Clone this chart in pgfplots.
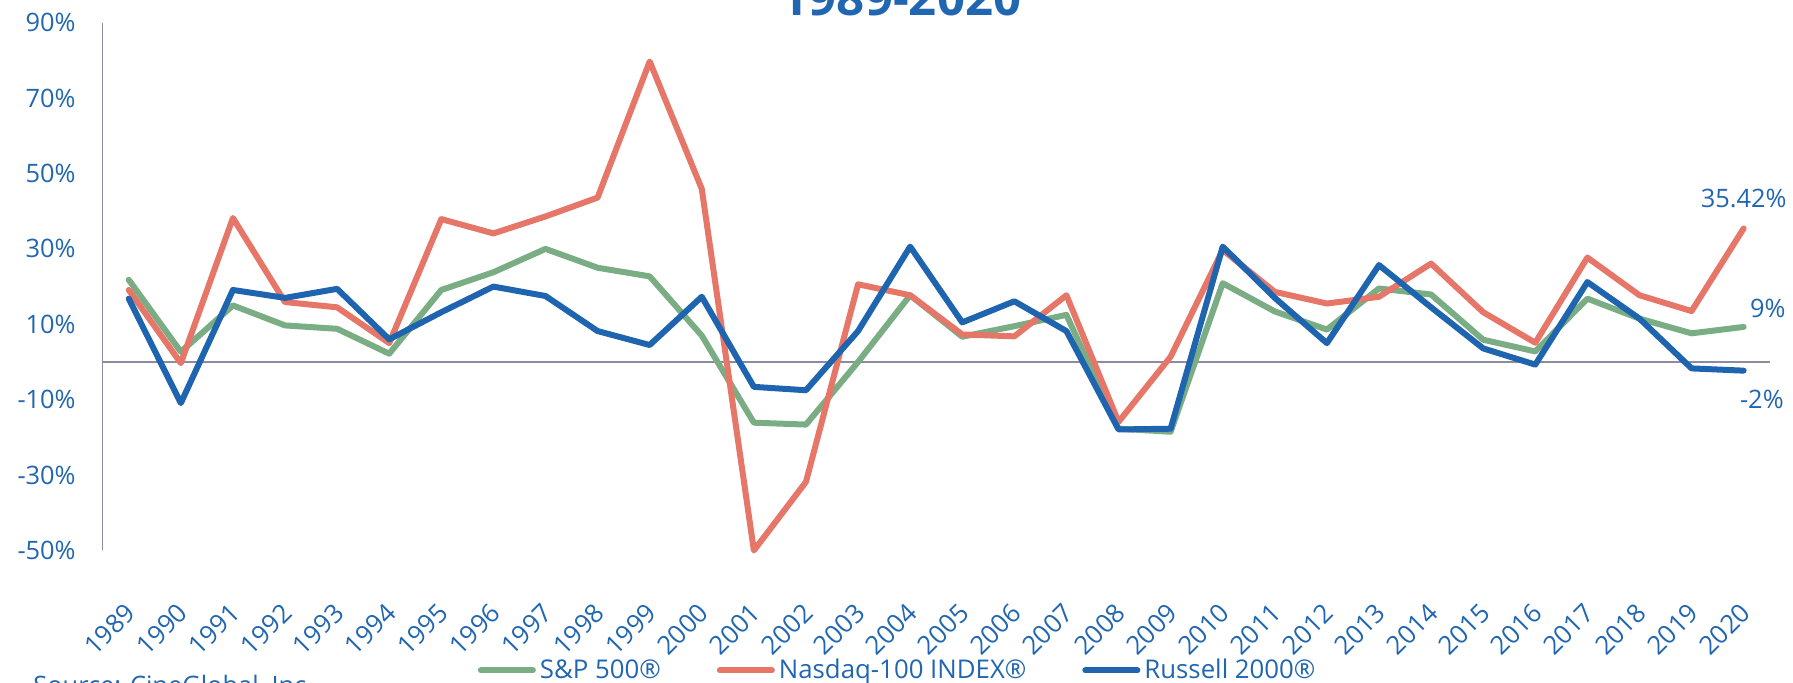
\documentclass[border=0pt]{standalone}
\usepackage{pgfplots}
\usepackage{pgfplotstable}
\pgfplotsset{compat=1.18}
\usepackage{fontspec}
\setmainfont{Open Sans}
\definecolor{txtblue}{RGB}{33,102,176}
\definecolor{spgreen}{RGB}{122,173,132}
\definecolor{ndred}{RGB}{229,118,104}
\definecolor{rublue}{RGB}{30,100,175}
\definecolor{axgray}{RGB}{140,140,160}

\pgfplotstableread{
year sp nd ru
1989 21.8 19.1 16.8
1990 2.7 -0.3 -10.9
1991 15.0 38.2 19.1
1992 9.7 15.9 17.0
1993 8.8 14.5 19.4
1994 2.2 5.0 6.0
1995 19.1 37.9 13.2
1996 23.8 34.1 20.0
1997 30.0 38.6 17.5
1998 25.0 43.6 8.2
1999 22.7 79.7 4.5
2000 7.0 45.9 17.3
2001 -16.1 -50.0 -6.6
2002 -16.6 -31.8 -7.5
2003 0.0 20.6 8.2
2004 17.7 17.7 30.6
2005 6.7 7.3 10.5
2006 9.5 6.8 16.1
2007 12.5 17.7 8.2
2008 -17.7 -15.9 -17.9
2009 -18.5 1.4 -17.7
2010 20.9 29.7 30.6
2011 13.4 18.6 17.0
2012 8.6 15.5 5.0
2013 19.5 17.3 25.7
2014 17.9 26.1 14.5
2015 5.9 13.2 3.6
2016 2.8 5.1 -0.7
2017 16.8 27.7 21.2
2018 11.5 17.7 11.5
2019 7.6 13.5 -1.7
2020 9.3 35.42 -2.3
}\datatable

\begin{document}
\begin{tikzpicture}
\begin{axis}[
  at={(0,0)}, anchor=south west,
  scale only axis,
  width=833.5pt, height=263.9pt,
  xmin=1988.5, xmax=2020.5,
  ymin=-50, ymax=90,
  axis line style={draw=none},
  major tick length=0pt,
  xtick={1989,...,2020},
  ytick={-50,-30,-10,10,30,50,70,90},
  yticklabel={\pgfmathprintnumber{\tick}\%},
  /pgf/number format/assume math mode=true,
  xticklabel style={/pgf/number format/1000 sep={}, xshift=3.5pt, yshift=-4.5pt, rotate=45, anchor=east, font=\fontsize{12.9pt}{15pt}\selectfont, text=txtblue},
  xticklabel shift=22pt,
  yticklabel style={font=\fontsize{12.7pt}{15pt}\selectfont, text=txtblue, xshift=-10pt},
  legend style={draw=none, fill=none, at={(axis description cs:0.4775,-0.2272)}, anchor=center,
    legend columns=3, font=\fontsize{12.9pt}{15pt}\selectfont, text=txtblue,
    /tikz/every even column/.append style={column sep=26pt},
    nodes={inner xsep=2pt}},
  legend image code/.code={\draw[#1, line width=3pt, line cap=round] (0pt,0pt) -- (26pt,0pt);},
  every axis plot/.append style={line width=3pt, line join=round, line cap=round, mark=none},
  clip=false,
]
\draw[axgray, line width=0.8pt] (axis cs:1988.5,-50) -- (axis cs:1988.5,90);
\draw[axgray, line width=0.8pt] (axis cs:1988.5,0) -- (axis cs:2020.5,0);
\addplot[spgreen] table[x=year, y=sp] {\datatable};
\addlegendentry{S\&P 500®}
\addplot[ndred] table[x=year, y=nd] {\datatable};
\addlegendentry{Nasdaq-100 INDEX®}
\addplot[rublue] table[x=year, y=ru] {\datatable};
\addlegendentry{Russell 2000®}
\node[anchor=south, inner sep=0pt, yshift=10pt, text=txtblue, font=\fontsize{12.7pt}{15pt}\selectfont] at (axis cs:2020,35.42) {35.42\%};
\node[anchor=south west, inner sep=0pt, xshift=3pt, yshift=4.5pt, text=txtblue, font=\fontsize{12.7pt}{15pt}\selectfont] at (axis cs:2020,9.3) {9\%};
\node[anchor=north west, inner sep=0pt, xshift=-2pt, yshift=-9.5pt, text=txtblue, font=\fontsize{12.7pt}{15pt}\selectfont] at (axis cs:2020,-2.3) {-2\%};
\end{axis}
\node[anchor=base, text=txtblue, font=\fontsize{24.6pt}{28pt}\selectfont\bfseries] at (399.15pt,267.25pt) {1989-2020};
\node[anchor=base west, inner sep=0pt, text=txtblue, font=\fontsize{12.7pt}{15pt}\selectfont] at (-34.85pt,-72pt) {Source: CineGlobal, Inc.};
\pgfresetboundingbox
\useasboundingbox (-51.35pt,-66.25pt) rectangle (845.15pt,275.25pt);
\end{tikzpicture}
\end{document}
